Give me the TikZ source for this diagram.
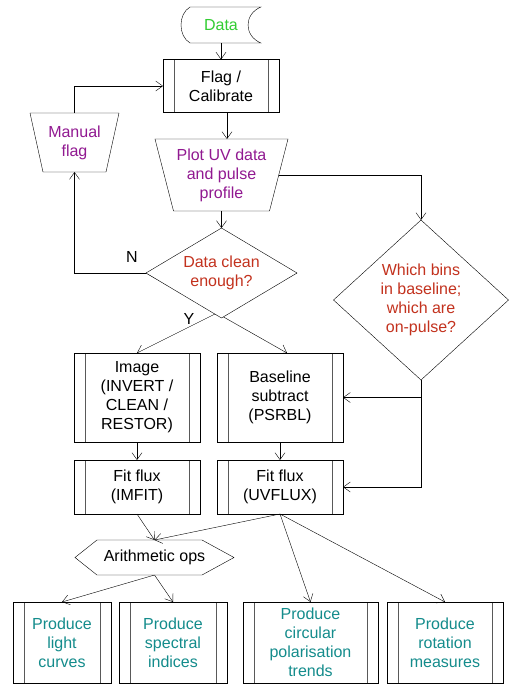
\documentclass[tikz,border=0pt]{standalone}
\usepackage{fontspec}
\setmainfont{Liberation Sans}
\usetikzlibrary{arrows.meta,calc,backgrounds}
\definecolor{cgreen}{RGB}{50,205,50}
\definecolor{cpurple}{RGB}{145,25,145}
\definecolor{cred}{RGB}{195,50,30}
\definecolor{cteal}{RGB}{20,140,140}
\begin{document}
\begin{tikzpicture}[x=1pt,y=-1pt,
  font=\fontsize{16}{19}\selectfont,
  line width=0.8pt,
  arr/.style={-{Straight Barb[length=7pt,width=10pt]}},
  txt/.style={align=center, inner sep=0pt, outer sep=0pt},
  proc/.style={draw, fill=white, align=center, inner sep=0pt, outer sep=0pt,
    path picture={\draw[black!65,line width=0.8pt]
      ([xshift=11pt]path picture bounding box.north west) -- ([xshift=11pt]path picture bounding box.south west)
      ([xshift=-11pt]path picture bounding box.north east) -- ([xshift=-11pt]path picture bounding box.south east);}},
  lbl/.style={inner sep=0pt}
]
\begin{pgfonlayer}{background}
\fill[white] (0,0) rectangle (509,686);
\end{pgfonlayer}
\useasboundingbox (0,0) rectangle (509,686);

% Data (stored data shape)
\node[txt, text=cgreen, minimum width=80pt, minimum height=36pt] (data) at (221,25) {Data};
\draw (190,7) -- (261,7) .. controls (243.7,14) and (243.7,36) .. (261,43)
      -- (190,43) .. controls (178,36) and (178,14) .. (190,7);

% Flag / Calibrate
\node[proc, minimum width=116pt, minimum height=53pt] (flag) at (221,86) {Flag /\\Calibrate};

% Manual flag (trapezium)
\node[txt, text=cpurple, minimum width=89pt, minimum height=59pt] (mflag) at (74.5,142.5) {Manual\\flag};
\draw (mflag.north west) -- (mflag.north east) -- ([xshift=-13pt]mflag.south east)
      -- ([xshift=13pt]mflag.south west) -- cycle;

% Plot UV data (trapezium)
\node[txt, text=cpurple, minimum width=133pt, minimum height=72pt] (plot) at (221.5,175) {Plot UV data\\and pulse\\profile};
\draw (plot.north west) -- (plot.north east) -- ([xshift=-18.5pt]plot.south east)
      -- ([xshift=18.5pt]plot.south west) -- cycle;

% Decisions
\node[txt, text=cred, minimum width=151pt, minimum height=90pt] (clean) at (221.5,273) {Data clean\\enough?};
\node[txt, text=cred, minimum width=175pt, minimum height=160pt] (which) at (421,300) {Which bins\\in baseline;\\which are\\on-pulse?};
\draw (which.north) -- (which.east) -- (which.south) -- (which.west) -- cycle;

% Processing boxes
\node[proc, minimum width=126pt, minimum height=89pt] (image) at (137,397.5) {Image\\(INVERT /\\CLEAN /\\RESTOR)};
\node[proc, minimum width=126pt, minimum height=89pt] (base) at (280,397.5) {Baseline\\subtract\\(PSRBL)};
\node[proc, minimum width=126pt, minimum height=54pt] (imfit) at (137,487) {Fit flux\\(IMFIT)};
\node[proc, minimum width=126pt, minimum height=54pt] (uvflux) at (280,487) {Fit flux\\(UVFLUX)};

% Arithmetic ops (hexagon)
\node[txt, minimum width=159pt, minimum height=35pt] (arith) at (154.5,557.5) {Arithmetic ops};
\draw (arith.west) -- ([xshift=22pt]arith.north west) -- ([xshift=-32pt]arith.north east)
      -- (arith.east) -- ([xshift=-32pt]arith.south east) -- ([xshift=22pt]arith.south west) -- cycle;

% Output boxes
\node[proc, text=cteal, minimum width=98pt, minimum height=81pt] (light) at (62,642.5) {Produce\\light\\curves};
\node[proc, text=cteal, minimum width=108pt, minimum height=81pt] (spec) at (173,642.5) {Produce\\spectral\\indices};
\node[proc, text=cteal, minimum width=135pt, minimum height=81pt] (circ) at (310.5,642.5) {Produce\\circular\\polarisation\\trends};
\node[proc, text=cteal, minimum width=116pt, minimum height=81pt] (rot) at (445,642.5) {Produce\\rotation\\measures};

% Crossing Y lines behind the decision diamond
\begin{pgfonlayer}{background}
\draw[arr] (clean.west) -- ([xshift=7pt]base.north);
\draw[arr] (clean.east) -- (image.north);
\filldraw[fill=white] (clean.north) -- (clean.east) -- (clean.south) -- (clean.west) -- cycle;
\end{pgfonlayer}

% Connectors
\draw[arr] (data.south) -- (flag.north);
\draw[arr] (mflag.north) |- (flag.west);
\draw[arr] (flag.south) ++(6pt,0) coordinate (fs) -- (fs |- plot.north);
\draw[arr] (plot.south) -- (clean.north);
\draw[arr] (clean.west) -| (mflag.south);
\draw[arr] ([xshift=-9.25pt]plot.east) -| (which.north);
\draw[arr] (which.south) |- (base.east);
\draw[arr] (which.south) |- (uvflux.east);
\draw[arr] (image.south) -- (imfit.north);
\draw[arr] (base.south) -- (uvflux.north);
\draw[arr] (imfit.south) -- (arith.north);
\draw[arr] (uvflux.south) -- (arith.north);
\draw[arr] (arith.south) -- (light.north);
\draw[arr] (arith.south) -- (spec.north);
\draw[arr] (uvflux.south) -- (circ.north);
\draw[arr] (uvflux.south) -- (rot.north);

% Labels
\node[lbl] (nlab) at (132,257) {N};
\node[lbl] (ylab) at (189,319) {Y};
\end{tikzpicture}
\end{document}
